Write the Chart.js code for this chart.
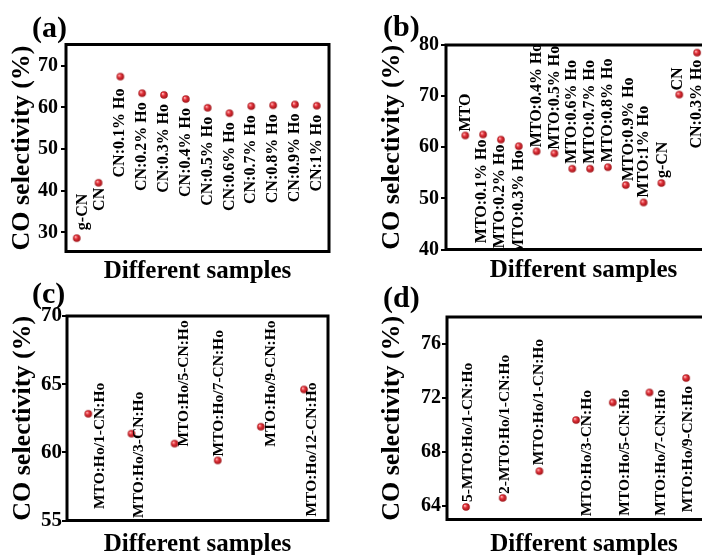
<!DOCTYPE html>
<html>
<head>
<meta charset="utf-8">
<script src="https://cdn.jsdelivr.net/npm/chart.js@4.4.1/dist/chart.umd.min.js"></script>
<style>
  html, body { margin: 0; padding: 0; background: #fff; overflow: hidden; width: 702px; height: 555px; }
  canvas { position: absolute; left: 0; top: 0; }
</style>
</head>
<body>
<canvas id="panelA" width="740" height="560"></canvas>
<canvas id="panelB" width="740" height="560"></canvas>
<canvas id="panelC" width="740" height="560"></canvas>
<canvas id="panelD" width="740" height="560"></canvas>
<script>
// (a) g-CN, CN and Ho-loaded CN
const samplesA = ['g-CN', 'CN', 'CN:0.1% Ho', 'CN:0.2% Ho', 'CN:0.3% Ho', 'CN:0.4% Ho',
                  'CN:0.5% Ho', 'CN:0.6% Ho', 'CN:0.7% Ho', 'CN:0.8% Ho', 'CN:0.9% Ho', 'CN:1% Ho'];
const selectivityA = [28.6, 41.9, 67.4, 63.4, 63.0, 62.0, 59.9, 58.6, 60.3, 60.5, 60.7, 60.4];
const ticksA = [30, 40, 50, 60, 70];

// (b) MTO series with references
const samplesB = ['MTO', 'MTO:0.1% Ho', 'MTO:0.2% Ho', 'MTO:0.3% Ho', 'MTO:0.4% Ho', 'MTO:0.5% Ho',
                  'MTO:0.6% Ho', 'MTO:0.7% Ho', 'MTO:0.8% Ho', 'MTO:0.9% Ho', 'MTO:1% Ho',
                  'g-CN', 'CN', 'CN:0.3% Ho'];
const selectivityB = [62.3, 62.5, 61.5, 60.2, 59.2, 58.8, 55.8, 55.8, 56.1, 52.6, 49.2, 53.0, 70.3, 78.5];
const ticksB = [40, 50, 60, 70, 80];

// (c) MTO:Ho / n-CN:Ho composites
const samplesC = ['MTO:Ho/1-CN:Ho', 'MTO:Ho/3-CN:Ho', 'MTO:Ho/5-CN:Ho',
                  'MTO:Ho/7-CN:Ho', 'MTO:Ho/9-CN:Ho', 'MTO:Ho/12-CN:Ho'];
const selectivityC = [62.83, 61.37, 60.64, 59.41, 61.88, 64.61];
const ticksC = [55, 60, 65, 70];

// (d) ratio series
const samplesD = ['5-MTO:Ho/1-CN:Ho', '2-MTO:Ho/1-CN:Ho', 'MTO:Ho/1-CN:Ho', 'MTO:Ho/3-CN:Ho',
                  'MTO:Ho/5-CN:Ho', 'MTO:Ho/7-CN:Ho', 'MTO:Ho/9-CN:Ho'];
const selectivityD = [63.93, 64.6, 66.58, 70.37, 71.67, 72.41, 73.48];
const ticksD = [64, 68, 72, 76];

// Label placement: direction of the vertical text and pixel offset from its marker
const placeA = [['up', 6, -8], ['down', 1, 5], ['down', 0, 12], ['down', 0, 9], ['down', 0, 9], ['down', 0, 9],
                ['down', 0, 9], ['down', 0, 9], ['down', 0, 9], ['down', 0, 9], ['down', 0, 9], ['down', 0, 9]];
const placeB = [['up', 1, -4], ['down', -1, 5], ['down', -1, 5], ['down', 0, 4], ['up', 0, -4], ['up', 0, -4],
                ['up', 0, -5], ['up', 0, -5], ['up', 0, -5], ['up', 3, -4], ['up', 0, -5], ['up', 1, -5],
                ['up', -1, -4], ['down', 0, 7]];
const placeC = [['down', 12, -31], ['down', 8, -42], ['up', 9, 3], ['up', 1, -4], ['up', 10, 20], ['down', 8, -7]];
const placeD = [['up', 2, -5], ['up', 2, -4], ['up', 0, -6], ['down', 11, -30], ['down', 12, -13],
                ['down', 12, -3], ['down', 2, 8]];

const SERIF = '"Liberation Serif", "Times New Roman", serif';
const W = 740, H = 560;

// shaded red ball used as the marker
function makeSphere(r) {
  const s = Math.ceil(r * 2) + 2;
  const c = document.createElement('canvas');
  c.width = c.height = s;
  const g = c.getContext('2d');
  const cx = s / 2, cy = s / 2;
  const grad = g.createRadialGradient(cx - r * 0.35, cy - r * 0.35, r * 0.1, cx, cy, r);
  grad.addColorStop(0, '#ffb4b4');
  grad.addColorStop(0.4, '#e3313a');
  grad.addColorStop(1, '#9a1014');
  g.fillStyle = grad;
  g.beginPath();
  g.arc(cx, cy, r, 0, Math.PI * 2);
  g.fill();
  return c;
}
const sphere = makeSphere(3.8);

function makePanel(id, p) {
  const labelPlugin = {
    id: 'pointLabels',
    afterDatasetsDraw(chart) {
      const { ctx, chartArea: a } = chart;
      const meta = chart.getDatasetMeta(0);
      ctx.save();
      ctx.beginPath();
      ctx.rect(a.left, a.top, a.right - a.left, a.bottom - a.top);
      ctx.clip();
      ctx.fillStyle = '#000';
      ctx.font = 'bold ' + p.labelSize + 'px ' + SERIF;
      ctx.textBaseline = 'middle';
      meta.data.forEach((el, i) => {
        const [mode, dx, dy] = p.place[i];
        ctx.save();
        ctx.translate(el.x + dx, el.y + dy);
        ctx.rotate(-Math.PI / 2);
        ctx.textAlign = mode === 'up' ? 'left' : 'right';
        ctx.fillText(p.names[i], 0, 0);
        ctx.restore();
      });
      ctx.restore();
    }
  };
  const framePlugin = {
    id: 'frame',
    afterDraw(chart) {
      const { ctx, chartArea: a } = chart;
      ctx.save();
      ctx.lineWidth = 3;
      ctx.strokeStyle = '#000';
      ctx.strokeRect(a.left, a.top, a.right - a.left, a.bottom - a.top);
      ctx.fillStyle = '#000';
      ctx.font = 'bold 30px ' + SERIF;
      ctx.textAlign = 'left';
      ctx.textBaseline = 'alphabetic';
      ctx.fillText(p.letter[0], p.letter[1], p.letter[2]);
      ctx.restore();
    }
  };
  const ca = p.area;
  const titleBottom = p.xTitleY + 12.5;
  return new Chart(document.getElementById(id), {
    type: 'scatter',
    data: {
      datasets: [{
        data: p.values.map((v, i) => ({ x: i, y: v })),
        pointStyle: sphere,
        pointRadius: 4,
        showLine: false
      }]
    },
    options: {
      responsive: false,
      animation: false,
      devicePixelRatio: 1,
      layout: {
        padding: { left: p.axisLeft, top: ca.top, right: W - ca.right, bottom: H - titleBottom }
      },
      plugins: { legend: { display: false }, tooltip: { enabled: false } },
      scales: {
        x: {
          type: 'linear',
          min: p.xMin, max: p.xMax,
          afterFit: s => { s.height = titleBottom - ca.bottom; },
          grid: { display: false },
          border: { display: false },
          ticks: { display: false },
          title: {
            display: true, text: 'Different samples', color: '#000',
            font: { family: SERIF, size: 25, weight: 'bold', lineHeight: 1 },
            padding: { top: 0, bottom: 0 }
          }
        },
        y: {
          min: p.yMin, max: p.yMax,
          afterBuildTicks: s => { s.ticks = p.ticks.map(v => ({ value: v })); },
          afterFit: s => { s.width = ca.left - p.axisLeft; },
          grid: { display: true, drawOnChartArea: false, drawTicks: true, tickLength: 5, color: '#000', lineWidth: 2 },
          border: { display: false },
          ticks: {
            color: '#000', padding: p.tickPad,
            font: { family: SERIF, size: p.tickSize, weight: 'bold' }
          },
          title: {
            display: true, text: 'CO selectivity (%)', color: '#000',
            font: { family: SERIF, size: 26, weight: 'bold', lineHeight: 1 },
            padding: { top: p.yTitlePad, bottom: 0 }
          }
        }
      }
    },
    plugins: [labelPlugin, framePlugin]
  });
}

makePanel('panelA', {
  names: samplesA, values: selectivityA, ticks: ticksA, place: placeA,
  area: { left: 66, top: 44.5, right: 329, bottom: 251.5 },
  axisLeft: 0, xTitleY: 272, yMin: 25.4, yMax: 75.1, xMin: -0.49, xMax: 11.56,
  tickPad: 3, tickSize: 20, yTitlePad: 9, labelSize: 16, letter: ['(a)', 32, 37]
});
makePanel('panelB', {
  names: samplesB, values: selectivityB, ticks: ticksB, place: placeB,
  area: { left: 446, top: 45, right: 721, bottom: 249.5 },
  axisLeft: 351, xTitleY: 271, yMin: 40, yMax: 80, xMin: -1.08, xMax: 14.34,
  tickPad: 2, tickSize: 20, yTitlePad: 28, labelSize: 16, letter: ['(b)', 383, 36]
});
makePanel('panelC', {
  names: samplesC, values: selectivityC, ticks: ticksC, place: placeC,
  area: { left: 67, top: 316, right: 328, bottom: 520.5 },
  axisLeft: 0, xTitleY: 545, yMin: 55, yMax: 70, xMin: -0.494, xMax: 5.556,
  tickPad: 0, tickSize: 21, yTitlePad: 10, labelSize: 15.5, letter: ['(c)', 32, 303]
});
makePanel('panelD', {
  names: samplesD, values: selectivityD, ticks: ticksD, place: placeD,
  area: { left: 447, top: 317, right: 721, bottom: 519.5 },
  axisLeft: 351, xTitleY: 544.5, yMin: 63, yMax: 78, xMin: -0.518, xMax: 6.95,
  tickPad: 1, tickSize: 20, yTitlePad: 28, labelSize: 15.5, letter: ['(d)', 383, 307]
});
</script>
</body>
</html>
